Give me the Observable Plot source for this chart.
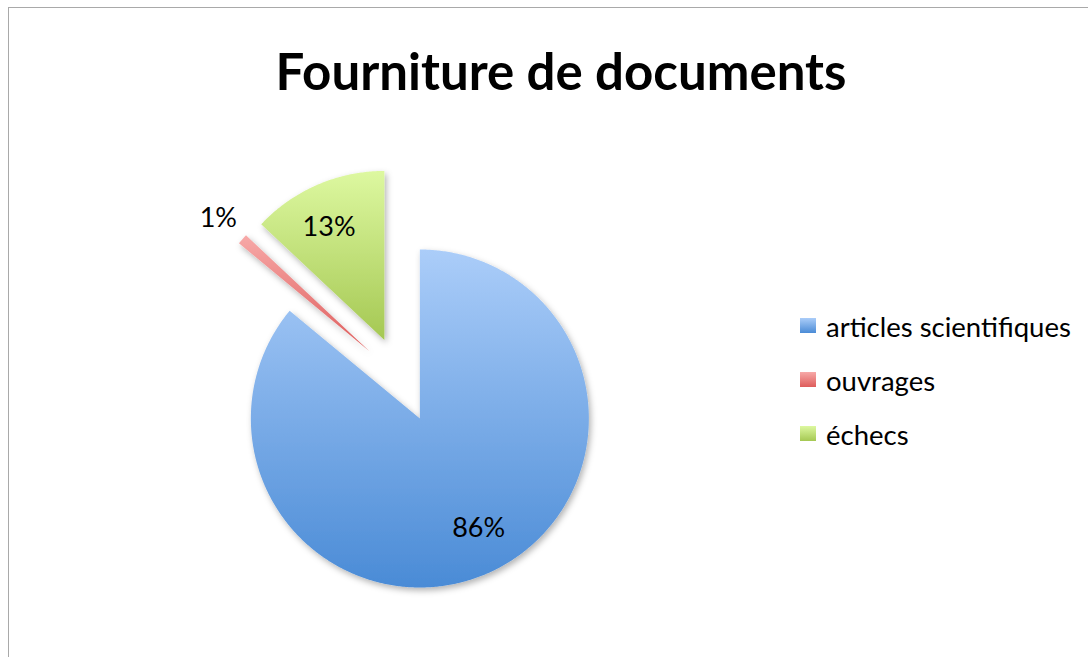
<!DOCTYPE html>
<html>
<head>
<meta charset="utf-8">
<script src="https://cdn.jsdelivr.net/npm/d3@7"></script>
<script src="https://cdn.jsdelivr.net/npm/@observablehq/plot@0.6"></script>
<style>
  body { margin: 0; background: #fff; }
  #wrap { position: relative; width: 1088px; height: 657px; overflow: hidden; font-family: Lato, "Open Sans", sans-serif; color: #000; }
  #frame { position: absolute; left: 8px; top: 7px; width: 1100px; height: 700px; border-left: 1.5px solid #a9a9a9; border-top: 1.5px solid #a9a9a9; }
  #chart { position: absolute; left: 0; top: 0; }
  #title { position: absolute; left: 0; width: 1122px; top: 45px; text-align: center; font-weight: bold; font-size: 51px; line-height: 1; white-space: nowrap; }
  #legend { position: absolute; left: 800px; top: 313px; }
  .row { position: relative; height: 54px; font-size: 27.5px; line-height: 1; white-space: nowrap; }
  .sw { position: absolute; left: 0; top: 5px; width: 16px; height: 15px; }
  .lab { position: absolute; left: 26px; top: 0; }
</style>
</head>
<body>
<div id="wrap">
  <div id="frame"></div>
  <div id="chart"></div>
  <div id="title"></div>
  <div id="legend"></div>
</div>
<script>
// ---- data ----
const titleText = "Fourniture de documents";
const categories = ["articles scientifiques", "ouvrages", "échecs"];
const values = [86, 1, 13];
const valueLabels = ["86%", "1%", "13%"];

// ---- style ----
const gradTop = ["#abcdf9", "#f7a9a8", "#ddf8a0"];
const gradBottom = ["#4a8bd6", "#de5c5b", "#a5c853"];
const W = 1088, H = 657;
const R = 169, CX = 401, CY = 379;   // pie radius and centre (px)
const explode = 0.255;                // explosion, in radius units

// ---- geometry from the data ----
const arcs = d3.pie().sort(null).value(d => d)(values);
const polyPts = [];
const labelPts = [];
arcs.forEach((p, i) => {
  const m = (p.startAngle + p.endAngle) / 2;
  const ox = explode * Math.sin(m), oy = explode * Math.cos(m);
  polyPts.push({cat: categories[i], x: ox, y: oy});
  const n = Math.max(2, Math.ceil((p.endAngle - p.startAngle) / (Math.PI / 360)));
  for (let k = 0; k <= n; k++) {
    const a = p.startAngle + (p.endAngle - p.startAngle) * k / n;
    polyPts.push({cat: categories[i], x: ox + Math.sin(a), y: oy + Math.cos(a)});
  }
  polyPts.push({cat: categories[i], x: ox, y: oy});
  const outside = values[i] < 5;
  const lr = outside ? 1.19 : 0.74;
  const la = outside ? m : m - 0.05;
  labelPts.push({text: valueLabels[i], x: ox + lr * Math.sin(la), y: oy + lr * Math.cos(la)});
});

const plot = Plot.plot({
  width: W, height: H,
  marginTop: 0, marginRight: 0, marginBottom: 0, marginLeft: 0,
  style: {background: "transparent", overflow: "visible"},
  x: {domain: [-CX / R, (W - CX) / R], range: [0, W], axis: null},
  y: {domain: [(CY - H) / R, CY / R], range: [H, 0], axis: null},
  color: {domain: categories, range: categories.map((_, i) => `url(#grad${i})`)},
  marks: [
    Plot.line(polyPts, {x: "x", y: "y", z: "cat", fill: "cat", stroke: "none", curve: "linear"}),
    Plot.text(labelPts, {x: "x", y: "y", text: "text", fontSize: 27, fill: "#000", fontFamily: "Lato, 'Open Sans', sans-serif"})
  ]
});

const svg = d3.select(plot);
const defs = svg.insert("defs", ":first-child");
categories.forEach((c, i) => {
  const g = defs.append("linearGradient").attr("id", `grad${i}`).attr("x1", 0).attr("y1", 0).attr("x2", 0).attr("y2", 1);
  g.append("stop").attr("offset", "0%").attr("stop-color", gradTop[i]);
  g.append("stop").attr("offset", "100%").attr("stop-color", gradBottom[i]);
});
const f = defs.append("filter").attr("id", "shadow").attr("x", "-20%").attr("y", "-20%").attr("width", "140%").attr("height", "140%");
f.append("feDropShadow").attr("dx", 2).attr("dy", 3).attr("stdDeviation", 3).attr("flood-color", "#000").attr("flood-opacity", 0.3);
svg.select('g[aria-label="line"]').attr("filter", "url(#shadow)");

document.getElementById("chart").appendChild(plot);
document.getElementById("title").textContent = titleText;

const legend = d3.select("#legend");
categories.forEach((c, i) => {
  const row = legend.append("div").attr("class", "row");
  row.append("div").attr("class", "sw").style("background", `linear-gradient(${gradTop[i]}, ${gradBottom[i]})`);
  row.append("div").attr("class", "lab").text(c);
});
</script>
</body>
</html>
